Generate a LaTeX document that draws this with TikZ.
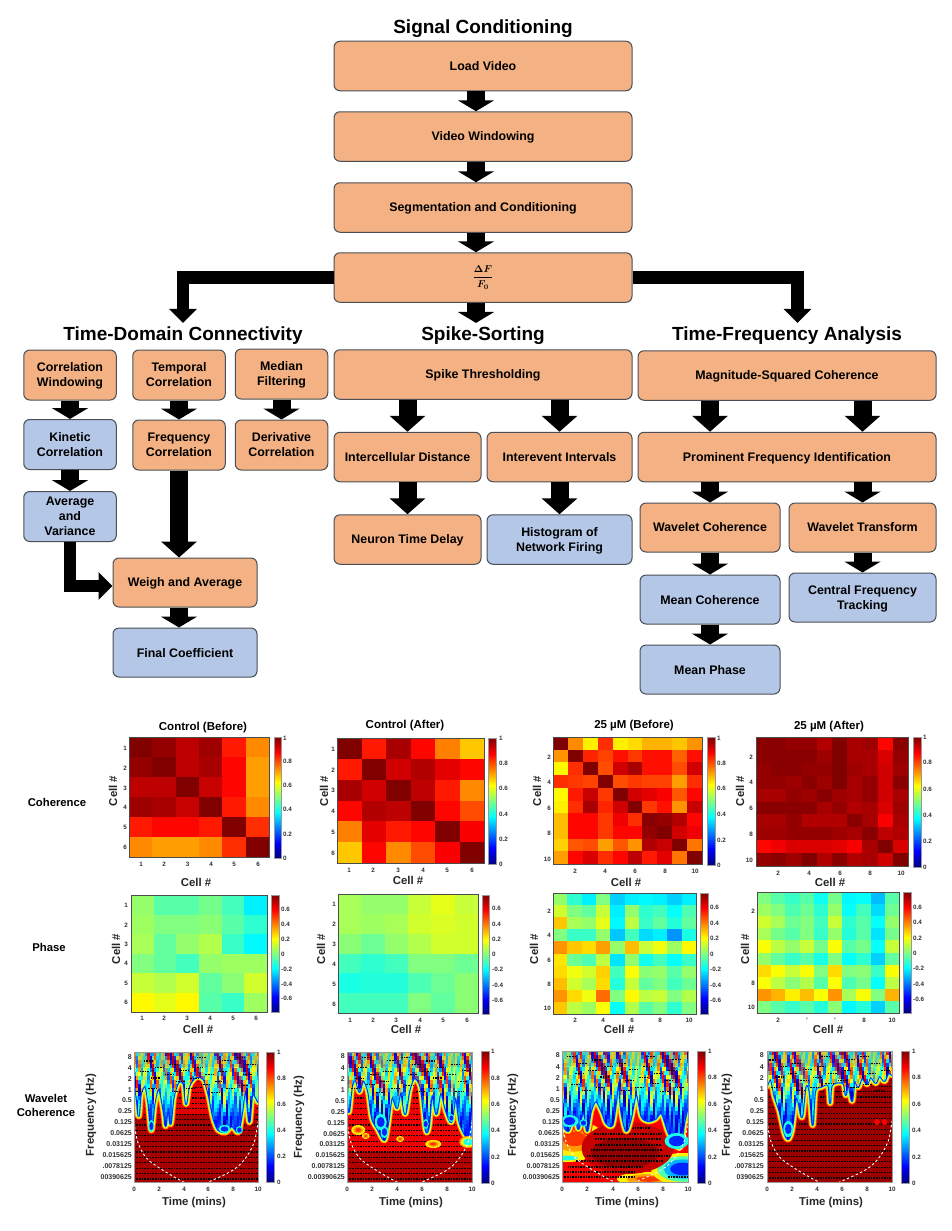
\documentclass[tikz,border=0pt]{standalone}
\usepackage{amssymb,amsmath,bm}
\usepackage{fontspec}
\setmainfont{Liberation Sans}
\usepackage{tikz}
\usetikzlibrary{arrows.meta}

\definecolor{boxorange}{HTML}{F4B183}
\definecolor{boxblue}{HTML}{B4C7E7}
\definecolor{boxline}{HTML}{4A4F57}
\definecolor{ticktext}{HTML}{303030}

\pgfdeclareverticalshading{jetbar}{100bp}{rgb(0bp)=(0,0,.5); rgb(25bp)=(0,0,.5); rgb(31.25bp)=(0,0,1); rgb(43.75bp)=(0,1,1); rgb(56.25bp)=(1,1,0); rgb(68.75bp)=(1,0,0); rgb(75bp)=(.5,0,0); rgb(100bp)=(.5,0,0)}

\tikzset{
  flowbox/.style={draw=boxline, line width=1pt, rounded corners=6pt, inner sep=0pt, align=center, text depth=0pt,
    font=\bfseries\fontsize{12.4}{15}\selectfont},
  orangebox/.style={flowbox, fill=boxorange},
  bluebox/.style={flowbox, fill=boxblue},
  widebox/.style={minimum width=298pt, minimum height=49.5pt},
  colbox/.style={minimum width=92.5pt, minimum height=50pt},
  sumbox/.style={minimum width=144pt, minimum height=49pt},
  leftbox/.style={minimum width=147pt, minimum height=49.5pt},
  rightbox/.style={minimum width=145pt, minimum height=49.5pt},
  wavebox/.style={minimum width=140pt, minimum height=49pt},
  transbox/.style={minimum width=147pt, minimum height=49pt},
  headline/.style={font=\bfseries\fontsize{19}{22}\selectfont, inner sep=4pt, text depth=0pt},
  paneltitle/.style={font=\bfseries\fontsize{11.5}{13}\selectfont, inner sep=0pt, text depth=0pt},
  axislabel/.style={font=\bfseries\fontsize{11.4}{13}\selectfont, inner sep=0pt, text=black!85},
  rowlabel/.style={font=\bfseries\fontsize{11.3}{14}\selectfont, inner sep=0pt, align=center, text depth=0pt},
  ticklab/.style={font=\bfseries\fontsize{6.3}{7}\selectfont, inner sep=0pt, text=ticktext},
  freqlab/.style={font=\bfseries\fontsize{7}{8}\selectfont, inner sep=0pt, text=ticktext},
  axframe/.style={draw=black!70, line width=.8pt},
  waveframe/.style={draw=black!40, line width=.8pt},
  smallarrow/.style={line width=18pt, -{Triangle[width=36pt,length=11pt]}},
  midarrow/.style={line width=18pt, -{Triangle[width=35pt,length=16pt]}},
  elbowarrow/.style={line width=12.5pt, -{Triangle[width=27pt,length=14pt]}},
  wavedots/.style={black, line width=1.1pt, dash pattern=on 1pt off .6pt},
  conedash/.style={white, line width=.9pt, dash pattern=on 2.4pt off 2.4pt},
}

\newcommand{\jetset}[1]{%
  \pgfmathsetmacro\jr{max(0,min(1,1.5-abs(4*(#1)-3)))}%
  \pgfmathsetmacro\jg{max(0,min(1,1.5-abs(4*(#1)-2)))}%
  \pgfmathsetmacro\jb{max(0,min(1,1.5-abs(4*(#1)-1)))}%
  \definecolor{jetc}{rgb}{\jr,\jg,\jb}}

\newcommand{\heatmap}[6]{%
  \pgfmathsetmacro\hw{(#3-#1)/#5}
  \pgfmathsetmacro\hh{(#4-#2)/#5}
  \foreach \v [count=\k from 0] in {#6} {
    \pgfmathtruncatemacro\hc{mod(\k,#5)}
    \pgfmathtruncatemacro\hr{\k/#5}
    \jetset{\v/100}
    \fill[jetc] ({#1+\hc*\hw},{#2+\hr*\hh}) rectangle ++({\hw+.3},{\hh+.3});
  }
  \draw[axframe] (#1,#2) rectangle (#3,#4);
}

\newcommand{\xticks}[3]{\foreach \lab/\pos [count=\c] in {#3} \node[ticklab] (#1x\c) at (\pos,#2) {\lab};}
\newcommand{\yticks}[3]{\foreach \lab/\pos [count=\c] in {#3} \node[ticklab, anchor=east] (#1y\c) at (#2,\pos) {\lab};}
\newcommand{\fticks}[3]{\foreach \lab/\pos [count=\c] in {#3} \node[freqlab, anchor=east] (#1y\c) at (#2,\pos) {\lab};}

\newcommand{\cbar}[7]{%
  \shade[shading=jetbar] (#2,#3) rectangle (#4,#5);
  \draw[waveframe] (#2,#3) rectangle (#4,#5);
  \foreach \lab/\pos [count=\c] in {#7} \node[ticklab, anchor=west] (#1c\c) at (#6,\pos) {\lab};
}

\newcommand{\wblob}[5]{%
  \foreach \wt/\wf in #5 {
    \jetset{\wt/100}
    \fill[jetc] (#1,#2) ellipse [x radius={\wf*#3pt}, y radius={\wf*#4pt}];
  }
}
\def\coldlist{40/1,16/.65}
\def\hotlist{64/1,72/.7,82/.4}

\newcommand{\waverows}{\foreach \r in {0,...,19} \draw[wavedots] (0,{127-5.4*\r}) -- (10,{127-5.4*\r});}

\newcommand{\wavefront}[2]{%
  \foreach \wt/\wl in {87/8,72/6.5,63/5,42/3,16/1.8} {
    \jetset{\wt/100}
    \draw[jetc, fill=jetc, line width=\wl pt, line join=round] (-1,-6) -- plot[smooth,tension=.5] coordinates {#2} -- (11,-6) -- cycle;
  }
  \begin{scope}
    \clip (-1,-6) -- plot[smooth,tension=.5] coordinates {#2} -- (11,-6) -- cycle;
    \foreach \i in {0,...,56} \foreach \j in {0,...,24} {
      \pgfmathsetmacro\wk{max(0,min(1,(\j-7)/9))}
      \pgfmathsetmacro\wv{.5-.32*\wk+(.47-.32*\wk)*(.6*sin(127*\i+33*\j+#1+60*sin(23*\i))+.4*sin(197*\i-23*\j+2*#1))}
      \jetset{\wv}
      \fill[jetc] ({\i*.18},{\j*4}) rectangle ++(.19,4.3);
    }
  \end{scope}
  \fill[violet, opacity=.16] (0,0) rectangle (10,15);
  \foreach \k in {1,...,26} {
    \pgfmathsetmacro\dx{mod(\k*3.7+#1/10,9.4)}
    \pgfmathsetmacro\dy{5+mod(\k*17.3,38)}
    \draw[wavedots] (\dx,\dy) -- ++(.7,0);
  }
}

\newcommand{\wavecone}{\draw[conedash] plot[smooth] coordinates {(0,70) (.3,90) (1,106) (2.3,118) (4,130) (5,134) (6,130) (8,118) (9,106) (9.7,90) (10,70)};}

\begin{document}
\begin{tikzpicture}[x=1pt,y=-1pt]
\useasboundingbox (0,0) rectangle (951,1231);

\node[headline] (ttlsignal) at (483,27) {Signal Conditioning};
\node[orangebox, widebox] (load) at (483,66) {Load Video};
\node[orangebox, widebox] (video) at (483,136.5) {Video Windowing};
\node[orangebox, widebox] (segment) at (483,207.5) {Segmentation and Conditioning};
\node[orangebox, widebox, text depth=] (dff) at (483,277.5) {\fontsize{10}{12}\selectfont$\bm{\dfrac{\Delta F}{F_0}}$};

\node[headline] (ttltime) at (183,334) {Time-Domain Connectivity};
\node[headline] (ttlspike) at (483,334) {Spike-Sorting};
\node[headline] (ttlfreq) at (787,334) {Time-Frequency Analysis};

\node[orangebox, colbox] (corrwin) at (70,375) {Correlation\\Windowing};
\node[orangebox, colbox] (tempcorr) at (179,375) {Temporal\\Correlation};
\node[orangebox, colbox] (medfilt) at (281.5,374) {Median\\Filtering};
\node[bluebox, colbox] (kinetic) at (70,444.5) {Kinetic\\Correlation};
\node[orangebox, colbox] (freqcorr) at (179,445) {Frequency\\Correlation};
\node[orangebox, colbox] (derivcorr) at (281.5,445) {Derivative\\Correlation};
\node[bluebox, colbox] (avgvar) at (70,516.5) {Average\\and\\Variance};
\node[orangebox, sumbox] (weigh) at (185,582.5) {Weigh and Average};
\node[bluebox, sumbox] (finalcoef) at (185,652.5) {Final Coefficient};

\node[orangebox, widebox] (spike) at (483,374.5) {Spike Thresholding};
\node[orangebox, leftbox] (intdist) at (407.5,457) {Intercellular Distance};
\node[orangebox, rightbox] (intervent) at (559.5,457) {Interevent Intervals};
\node[orangebox, leftbox] (delay) at (407.5,539.5) {Neuron Time Delay};
\node[bluebox, rightbox] (histo) at (559.5,539.5) {Histogram of\\Network Firing};

\node[orangebox, widebox] (mag) at (787,375.5) {Magnitude-Squared Coherence};
\node[orangebox, widebox] (prom) at (787,457) {Prominent Frequency Identification};
\node[orangebox, wavebox] (wcoh) at (710,527.5) {Wavelet Coherence};
\node[orangebox, transbox] (wtrans) at (862.5,527.5) {Wavelet Transform};
\node[bluebox, wavebox] (mcoh) at (710,599.5) {Mean Coherence};
\node[bluebox, transbox] (central) at (862.5,597.5) {Central Frequency\\Tracking};
\node[bluebox, wavebox] (mphase) at (710,669.5) {Mean Phase};

\draw[smallarrow] ([xshift=-7pt]load.south) -- ([xshift=-7pt]video.north);
\draw[smallarrow] ([xshift=-7pt]video.south) -- ([xshift=-7pt]segment.north);
\draw[smallarrow] ([xshift=-7pt]segment.south) -- ([xshift=-7pt]dff.north);
\draw[smallarrow] ([xshift=-7pt]dff.south) -- ([xshift=-7pt]ttlspike.north);
\draw[elbowarrow] (dff.west) -| (ttltime.north);
\draw[elbowarrow] (dff.east) -| ([xshift=10.5pt]ttlfreq.north);

\draw[smallarrow] (corrwin) -- (kinetic);
\draw[smallarrow] (kinetic) -- (avgvar);
\draw[smallarrow] (tempcorr) -- (freqcorr);
\draw[smallarrow] (medfilt) -- (derivcorr);
\draw[midarrow] (freqcorr.south) -- (freqcorr.south |- weigh.north);
\draw[elbowarrow] (avgvar.south) |- ([yshift=-3.5pt]weigh.west);
\draw[smallarrow] ([xshift=-6pt]weigh.south) -- ([xshift=-6pt]finalcoef.north);

\draw[midarrow] (spike.south -| intdist.north) -- (intdist.north);
\draw[midarrow] (spike.south -| intervent.north) -- (intervent.north);
\draw[midarrow] (intdist.south) -- (delay.north);
\draw[midarrow] (intervent.south) -- (histo.north);

\draw[midarrow] (mag.south -| wcoh.north) -- (prom.north -| wcoh.north);
\draw[midarrow] (mag.south -| wtrans.north) -- (prom.north -| wtrans.north);
\draw[smallarrow] (prom.south -| wcoh.north) -- (wcoh.north);
\draw[smallarrow] (prom.south -| wtrans.north) -- (wtrans.north);
\draw[smallarrow] (wcoh.south) -- (mcoh.north);
\draw[smallarrow] (wtrans.south) -- (central.north);
\draw[smallarrow] (mcoh.south) -- (mphase.north);

\node[rowlabel] (rowcoh) at (57,802) {Coherence};
\node[rowlabel] (rowphase) at (49,947) {Phase};
\node[rowlabel] (rowwave) at (46,1105) {Wavelet\\Coherence};

\node[paneltitle] (ttlca) at (203,726) {Control (Before)};
\node[paneltitle] (ttlcb) at (405,724) {Control (After)};
\node[paneltitle] (ttlcc) at (634,724) {25 µM (Before)};
\node[paneltitle] (ttlcd) at (829,725) {25 µM (After)};

% coherence row
\heatmap{129}{737}{269}{857}{6}{100,98,94,97,85,74, 98,100,94,96,87,72, 94,94,100,93,87,72, 97,96,93,100,85,74, 85,87,87,85,100,83, 74,72,72,74,83,100}
\heatmap{337}{738}{484}{863}{6}{100,85,96,87,75,68, 85,100,92,95,90,87, 96,92,100,94,85,74, 87,95,94,100,87,80, 75,90,85,87,100,88, 68,87,74,80,88,100}
\heatmap{553}{737}{702}{864}{10}{100,74,64,83,64,66,70,70,68,73, 73,100,84,81,86,82,86,86,78,86, 63,83,100,80,92,96,86,86,80,92, 83,82,81,100,80,82,81,81,72,83, 63,85,93,82,100,92,90,88,79,87, 64,83,96,84,92,100,82,86,73,93, 69,87,87,82,89,83,99,98,95,87, 69,87,87,82,87,87,98,100,92,89, 67,79,80,72,79,73,95,93,100,76, 72,87,91,83,87,94,85,90,76,100}
\heatmap{756}{737}{908}{866}{10}{99,99,98,98,95,100,96,97,87,99, 99,99,99,99,97,100,96,96,91,98, 98,99,99,98,98,100,97,96,92,97, 98,98,97,99,97,100,96,98,92,99, 96,96,98,97,99,97,96,98,92,96, 99,99,99,99,96,98,95,96,91,97, 96,96,98,95,95,95,99,96,88,96, 97,97,98,98,98,97,96,99,94,95, 87,89,91,91,91,90,88,96,100,91, 98,99,97,100,95,99,95,96,92,100}

\cbar{ca}{274}{737}{281}{858}{283}{1/738,0.8/761.5,0.6/785.5,0.4/809.5,0.2/834,0/858}
\cbar{cb}{488}{738}{496}{864}{499}{1/738,0.8/763,0.6/788,0.4/814,0.2/839,0/864}
\cbar{cc}{707}{737}{715}{865}{717}{1/738,0.8/763,0.6/788,0.4/814,0.2/840,0/865}
\cbar{cd}{913}{737}{921}{867}{923}{1/737,0.8/762,0.6/789,0.4/815,0.2/841,0/867}

\yticks{ca}{127}{1/748,2/768,3/788,4/807,5/827,6/847}
\yticks{cb}{335}{1/749,2/770,3/790,4/811,5/832,6/853}
\yticks{cc}{551}{2/757,4/782,6/808,8/833,10/859}
\yticks{cd}{753}{2/757,4/782,6/808,8/834,10/860}
\xticks{ca}{864}{1/141,2/164,3/187.5,4/211,5/234,6/258}
\xticks{cb}{870}{1/349,2/373,3/398,4/423,5/447,6/472}
\xticks{cc}{871}{2/575,4/605,6/635,8/665,10/695}
\xticks{cd}{873}{2/778,4/809,6/840,8/870,10/901}

\node[axislabel, rotate=90] (ylca) at (113,791) {Cell \#};
\node[axislabel, rotate=90] (ylcb) at (324,791) {Cell \#};
\node[axislabel, rotate=90] (ylcc) at (537,791) {Cell \#};
\node[axislabel, rotate=90] (ylcd) at (740,791) {Cell \#};
\node[axislabel] (xlca) at (196,882) {Cell \#};
\node[axislabel] (xlcb) at (408,880) {Cell \#};
\node[axislabel] (xlcc) at (626,882) {Cell \#};
\node[axislabel] (xlcd) at (830,882) {Cell \#};

% phase row
\heatmap{131}{895}{267}{1012}{6}{52,46,46,49,44,36, 53,50,50,51,46,42, 54,47,52,55,43,37, 50,47,44,52,53,53, 57,55,58,47,51,58, 63,60,63,46,43,53}
\heatmap{338}{894}{478}{1013}{6}{54,52,52,57,60,57, 54,53,54,58,59,58, 51,48,52,55,58,58, 44,42,44,50,50,48, 40,41,41,45,48,51, 44,44,44,50,47,51}
\heatmap{553}{893}{696}{1014}{10}{52,42,36,50,33,36,37,36,33,36, 58,50,47,57,36,52,42,44,38,45, 68,54,52,60,37,56,43,47,41,47, 50,43,43,52,32,44,34,36,27,40, 73,68,66,72,52,69,57,61,53,63, 65,48,45,56,35,52,39,44,38,43, 66,61,58,67,44,62,51,52,46,52, 69,58,54,66,41,57,47,50,44,48, 73,66,61,77,50,63,56,57,50,55, 68,56,53,62,38,55,46,50,42,50}
\heatmap{757}{892}{899}{1013}{10}{50,46,43,46,39,49,37,38,31,46, 53,50,45,48,42,52,38,44,34,48, 58,54,48,50,44,57,42,46,38,52, 54,49,46,50,43,52,41,46,35,49, 62,56,52,57,49,62,46,49,38,57, 52,47,43,46,40,50,38,42,33,47, 66,62,57,62,50,66,50,51,43,62, 62,56,51,55,46,62,45,49,38,56, 73,70,64,69,62,73,54,62,50,70, 50,46,43,46,41,51,37,41,33,46}

\cbar{pa}{271}{895}{279}{1012}{281}{0.6/909,0.4/924,0.2/939,0/954,-0.2/969,-0.4/984,-0.6/998}
\cbar{pb}{482}{895}{489}{1014}{492}{0.6/908,0.4/924,0.2/939,0/954,-0.2/969,-0.4/985,-0.6/1000}
\cbar{pc}{700}{893}{708}{1014}{710}{0.6/907,0.4/923,0.2/938,0/954,-0.2/969,-0.4/985,-0.6/1000}
\cbar{pd}{903}{892}{911}{1013}{913}{0.6/907,0.4/922,0.2/938,0/953,-0.2/968,-0.4/984,-0.6/999}

\yticks{pa}{128}{1/905,2/925,3/944,4/963,5/983,6/1002}
\yticks{pb}{336}{1/904,2/924,3/944,4/964,5/984,6/1004}
\yticks{pc}{551}{2/911,4/935,6/960,8/984,10/1008}
\yticks{pd}{755}{2/911,8/983,10/1007}
\xticks{pa}{1018}{1/142,2/164,3/187,4/210,5/233,6/256}
\xticks{pb}{1020}{1/350,2/373,3/396,4/420,5/443,6/467}
\xticks{pc}{1020}{2/575,4/603,6/632,8/660,10/689}
\xticks{pd}{1020}{2/778,'/807,'/835,8/864,10/892}

\node[axislabel, rotate=90] (ylpa) at (116,949) {Cell \#};
\node[axislabel, rotate=90] (ylpb) at (321,949) {Cell \#};
\node[axislabel, rotate=90] (ylpc) at (534,949) {Cell \#};
\node[axislabel, rotate=90] (ylpd) at (745,949) {Cell \#};
\node[axislabel] (xlpa) at (198,1029) {Cell \#};
\node[axislabel] (xlpb) at (406,1029) {Cell \#};
\node[axislabel] (xlpc) at (619,1029) {Cell \#};
\node[axislabel] (xlpd) at (828,1029) {Cell \#};

% wavelet row
\begin{scope}[shift={(134,1052)}, x=12.4pt]
  \clip (0,0) rectangle (10,130);
  \jetset{.96} \fill[jetc] (0,0) rectangle (10,130);
  \jetset{.9} \fill[jetc] (0,0) rectangle (10,62);
  \waverows
  \wavefront{20}{(0,30) (.2,45) (.38,64) (.55,42) (.9,34) (1.15,50) (1.4,78) (1.65,52) (2,36) (2.4,60) (2.55,74) (2.75,55) (2.95,72) (3.2,45) (3.6,30) (4,32) (4.2,52) (4.45,34) (5,25) (5.6,27) (6,42) (6.4,66) (6.8,78) (7.4,80) (7.9,74) (8.4,80) (8.7,62) (9,38) (9.3,70) (9.55,42) (10,50)}
  \wblob{1.4}{74}{3}{6}{\coldlist}
  \wblob{7.3}{77}{6}{4}{\coldlist}
  \wblob{8.5}{78}{3.5}{4}{\coldlist}
  \wavecone
\end{scope}
\draw[waveframe] (134,1052) rectangle (258,1182);

\begin{scope}[shift={(347,1052)}, x=12.5pt]
  \clip (0,0) rectangle (10,130);
  \jetset{.95} \fill[jetc] (0,0) rectangle (10,130);
  \jetset{.89} \fill[jetc] (0,0) rectangle (10,100);
  \waverows
  \wblob{.9}{78}{7}{5}{\hotlist}
  \wblob{1.5}{84}{4}{3}{\hotlist}
  \wblob{4.25}{87}{4}{3}{\hotlist}
  \wblob{6.9}{92}{8}{4}{\hotlist}
  \wavefront{75}{(0,35) (.15,60) (.4,34) (.7,28) (1,40) (1.3,28) (1.7,40) (2,66) (2.5,78) (3,88) (3.3,70) (3.6,45) (4,56) (4.3,40) (4.65,62) (5,38) (5.4,26) (5.9,36) (6.3,78) (6.55,74) (6.8,42) (7.15,62) (7.5,40) (7.9,58) (8.35,70) (8.7,45) (9,70) (9.5,84) (10,88)}
  \wblob{2.7}{70}{6}{8}{\coldlist}
  \wblob{3}{80}{4}{6}{\coldlist}
  \wblob{6.3}{72}{3}{5}{\coldlist}
  \wblob{8.35}{66}{3}{4}{\coldlist}
  \wblob{9.7}{90}{9}{6}{{72/1,60/.8,40/.55}}
  \wavecone
\end{scope}
\draw[waveframe] (347,1052) rectangle (472,1182);

\begin{scope}[shift={(562,1051)}, x=12.6pt]
  \clip (0,0) rectangle (10,131);
  \jetset{.88} \fill[jetc] (0,0) rectangle (10,131);
  \wblob{1}{88}{30}{18}{\hotlist}
  \wblob{6.9}{128}{32}{7}{\hotlist}
  \wblob{9.6}{118}{32}{16}{{64/1,45/.8,30/.6,16/.4}}
  \wblob{.3}{107}{20}{4}{{64/1,40/.6}}
  \jetset{.93} \fill[jetc] (5.2,97) ellipse [x radius=46pt, y radius=26pt];
  \jetset{.98} \fill[jetc] (5,102) ellipse [x radius=34pt, y radius=15pt];
  \foreach \dp/\xa/\xb in {126/0/5.8, 126/8.4/10, 121/0/5.8, 116/.5/6.4, 110/1.1/8, 105/2/8.5, 99/2.3/7.9, 94/2.6/7.9, 88/2.6/7.9, 83/2.5/7.9, 77/4.9/7, 65/3.8/5.4}
    \draw[wavedots] (\xa,\dp) -- (\xb,\dp);
  \wavefront{130}{(0,72) (.5,80) (1,62) (1.3,78) (1.7,60) (2,80) (2.3,60) (2.7,50) (3.2,62) (3.5,72) (4,74) (4.3,50) (4.5,30) (4.7,60) (5.1,80) (5.5,66) (5.9,42) (6.3,65) (6.8,70) (7.4,68) (7.9,62) (8.4,80) (8.9,92) (9.4,96) (9.7,72) (10,55)}
  \wblob{.6}{70}{9}{6}{\coldlist}
  \wblob{1.7}{72}{4}{4}{\coldlist}
  \wblob{9.1}{90}{12}{8}{\coldlist}
  \wavecone
\end{scope}
\draw[waveframe] (562,1051) rectangle (688,1182);

\begin{scope}[shift={(767,1051)}, x=12.5pt]
  \clip (0,0) rectangle (10,131);
  \jetset{.97} \fill[jetc] (0,0) rectangle (10,131);
  \waverows
  \wblob{8.8}{71}{3}{3}{{88/1}}
  \wblob{9.4}{71}{3}{3}{{88/1}}
  \wavefront{200}{(0,35) (.3,28) (.6,45) (1,60) (1.4,82) (1.7,88) (2,78) (2.3,48) (2.5,50) (2.8,66) (3.1,35) (3.4,40) (3.65,74) (3.85,40) (4.3,36) (4.9,34) (5.05,52) (5.2,34) (6.1,32) (6.3,44) (6.5,32) (6.8,50) (7,30) (7.3,36) (7.6,27) (8,33) (8.3,26) (8.7,32) (9,25) (9.4,30) (9.7,22) (10,24)}
  \wblob{1.7}{78}{5}{8}{\coldlist}
  \wavecone
\end{scope}
\draw[waveframe] (767,1051) rectangle (892,1182);

\cbar{wa}{266}{1052}{274}{1182}{277}{1/1052,0.8/1078,0.6/1104,0.4/1130,0.2/1156,0/1182}
\cbar{wb}{481}{1051}{489}{1183}{491}{1/1051,0.8/1078,0.6/1104,0.4/1130,0.2/1157,0/1183}
\cbar{wc}{697}{1051}{705}{1183}{708}{1/1051,0.8/1077,0.6/1104,0.4/1130,0.2/1157,0/1183}
\cbar{wd}{901}{1051}{909}{1183}{912}{1/1051,0.8/1077,0.6/1104,0.4/1130,0.2/1157,0/1183}

\fticks{wa}{132}{8/1057,4/1068,2/1079,1/1090,0.5/1100,0.25/1111,0.125/1122,0.0625/1133,0.03125/1144,0.015625/1155,.0078125/1166,00390625/1177}
\fticks{wb}{345}{8/1056,4/1068,2/1079,1/1090,0.5/1101,0.25/1112,0.125/1123,0.0625/1134,0.03125/1144,0.015625/1155,0.0078125/1166,0.00390625/1177}
\fticks{wc}{560}{8/1055,4/1067,2/1078,1/1089,0.5/1100,0.25/1111,0.125/1122,0.0625/1133,0.03125/1144,0.015625/1155,0.0078125/1166,0.00390625/1177}
\fticks{wd}{764}{8/1055,4/1067,2/1078,1/1089,0.5/1100,0.25/1111,0.125/1122,0.0625/1133,0.03125/1144,.015625/1155,.0078125/1166,0390625/1177}
\xticks{wa}{1189}{0/134,2/159,4/184,6/208,8/233,10/258}
\xticks{wb}{1189}{0/347,2/372,4/397,6/422,8/447,10/472}
\xticks{wc}{1189}{0/562,2/587,4/613,6/638,8/663,10/688}
\xticks{wd}{1189}{0/767,2/792,4/817,6/842,8/867,10/892}

\node[axislabel, rotate=90] (ylwa) at (91,1115) {Frequency (Hz)};
\node[axislabel, rotate=90] (ylwb) at (299,1117) {Frequency (Hz)};
\node[axislabel, rotate=90] (ylwc) at (513,1115) {Frequency (Hz)};
\node[axislabel, rotate=90] (ylwd) at (727,1115) {Frequency (Hz)};
\node[axislabel] (xlwa) at (194,1203) {Time (mins)};
\node[axislabel] (xlwb) at (411,1203) {Time (mins)};
\node[axislabel] (xlwc) at (627,1203) {Time (mins)};
\node[axislabel] (xlwd) at (831,1203) {Time (mins)};

\end{tikzpicture}
\end{document}
